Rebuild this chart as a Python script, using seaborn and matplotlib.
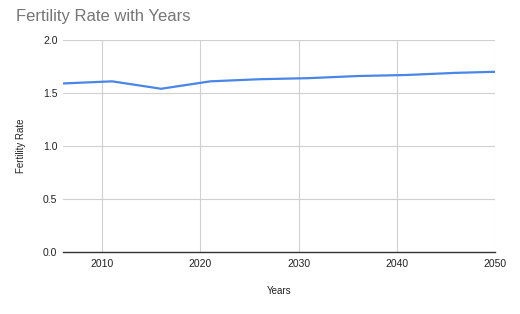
import matplotlib
matplotlib.use("Agg")
import matplotlib.pyplot as plt
import seaborn as sns
import pandas as pd

years = [2006, 2011, 2016, 2021, 2026, 2031, 2036, 2041, 2046, 2050]
fertility = [1.59, 1.61, 1.54, 1.61, 1.63, 1.64, 1.66, 1.67, 1.69, 1.70]
x_ticks = [2010, 2020, 2030, 2040, 2050]
y_ticks = [0.0, 0.5, 1.0, 1.5, 2.0]

sns.set_theme(style="white")
plt.rcParams['font.family'] = ['Liberation Sans', 'DejaVu Sans']

df = pd.DataFrame({"Years": years, "Fertility Rate": fertility})

fig = plt.figure(figsize=(5.2, 3.14), dpi=100)
ax = fig.add_axes([63/520, 1 - 252/314, (495-63)/520, (252-40)/314])

sns.lineplot(data=df, x="Years", y="Fertility Rate", ax=ax, color="#4a86e8", linewidth=1.6)

ax.set_xlim(2006, 2050)
ax.set_ylim(0, 2.0)
ax.set_xticks(x_ticks)
ax.set_yticks(y_ticks)
ax.set_xticklabels([str(t) for t in x_ticks])
ax.set_yticklabels([f"{t:.1f}" for t in y_ticks])
ax.grid(True, color="#d0d0d0", linewidth=0.8)
ax.set_axisbelow(True)
for s in ["top", "right", "left"]:
    ax.spines[s].set_visible(False)
ax.spines["bottom"].set_color("#333333")
ax.spines["bottom"].set_linewidth(1.0)
ax.tick_params(axis="both", length=0, labelsize=7.5, colors="#222222")
ax.tick_params(axis="x", pad=5)
ax.tick_params(axis="y", pad=4)

ax.set_xlabel("Years", fontsize=7, color="#222222", labelpad=12)
ax.set_ylabel("Fertility Rate", fontsize=7, color="#222222", labelpad=12)

fig.text(16/520, 1 - 17/314, "Fertility Rate with Years", fontsize=12, color="#757575", va="center", ha="left")

fig.savefig("out.png", dpi=100)
